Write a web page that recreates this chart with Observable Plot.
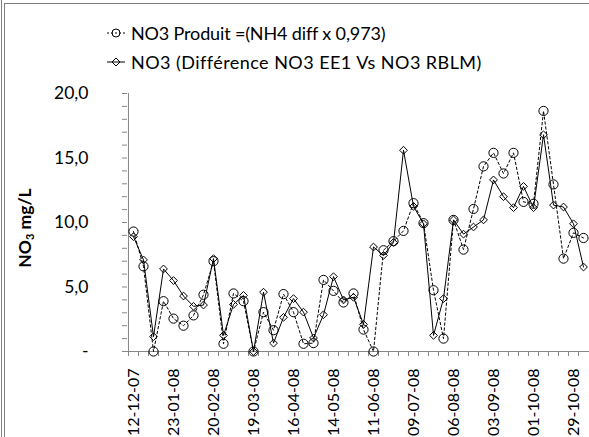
<!DOCTYPE html>
<html><head><meta charset="utf-8">
<script src="https://cdn.jsdelivr.net/npm/d3@7"></script>
<script src="https://cdn.jsdelivr.net/npm/@observablehq/plot@0.6"></script>
<style>
body{margin:0;background:#fff;}
#wrap{position:relative;width:589px;height:437px;overflow:hidden;font-family:Lato,sans-serif;color:#000;}
#outer{position:absolute;left:1px;top:0;width:1px;height:437px;background:#7f7f7f;}
#frame{position:absolute;left:4px;top:3px;width:700px;height:600px;border-left:1px solid #7f7f7f;border-top:1px solid #7f7f7f;}
#legend{position:relative;height:80px;}
.leg{position:absolute;left:106px;font-size:18px;display:flex;align-items:center;white-space:nowrap;line-height:20px;}
.leg svg{margin-right:5px;}
#ytitle{position:absolute;left:25px;top:228px;transform:translate(-50%,-50%) rotate(-90deg);font-weight:bold;font-size:17.5px;white-space:nowrap;}
#ytitle sub{font-size:11px;vertical-align:-3px;}
#chart{position:relative;}
</style></head>
<body>
<div id="wrap">
  <div id="outer"></div>
  <div id="frame"></div>
  <div id="legend">
    <div class="leg" style="top:23px;letter-spacing:-0.15px"><svg width="20" height="14"><line x1="1" y1="7" x2="19" y2="7" stroke="#000" stroke-dasharray="2,2"/><circle cx="10" cy="7" r="4" fill="none" stroke="#000"/></svg>NO3 Produit =(NH4 diff x 0,973)</div>
    <div class="leg" style="top:52px;letter-spacing:0.45px"><svg width="20" height="14"><line x1="1" y1="7" x2="19" y2="7" stroke="#000"/><path d="M10,3 L14,7 L10,11 L6,7 Z" fill="none" stroke="#000"/></svg>NO3 (Différence NO3 EE1 Vs NO3 RBLM)</div>
  </div>
  <div id="chart"></div>
  <div id="ytitle">NO<sub>3</sub> mg/L</div>
</div>
<script>
const dates = ["12-12-07","19-12-07","09-01-08","16-01-08","23-01-08","30-01-08","06-02-08","13-02-08",
  "20-02-08","27-02-08","05-03-08","12-03-08","19-03-08","26-03-08","02-04-08","09-04-08",
  "16-04-08","23-04-08","30-04-08","07-05-08","14-05-08","21-05-08","28-05-08","04-06-08",
  "11-06-08","18-06-08","25-06-08","02-07-08","09-07-08","16-07-08","23-07-08","30-07-08",
  "06-08-08","13-08-08","20-08-08","27-08-08","03-09-08","10-09-08","17-09-08","24-09-08",
  "01-10-08","08-10-08","15-10-08","22-10-08","29-10-08","05-11-08"];
const no3Produit = [9.3,6.6,0,3.9,2.55,2.0,2.8,4.4,7.0,0.6,4.5,3.9,0,3.05,1.65,4.45,3.05,0.6,0.65,5.55,
  4.7,3.8,4.5,1.7,0,7.85,8.55,9.35,11.5,9.95,4.75,1.0,10.2,7.9,11.05,14.35,15.4,13.8,15.4,11.6,
  11.45,18.65,12.95,7.2,9.2,8.8];
const no3Difference = [8.9,7.1,1.15,6.4,5.5,4.3,3.5,3.6,7.2,1.25,3.65,4.35,0,4.6,0.65,2.65,4.1,3.05,1.05,2.85,
  5.8,4.0,4.2,2.1,8.1,7.45,8.45,15.6,11.25,9.9,1.25,4.1,10.2,9.1,9.65,10.2,13.3,12.0,11.15,12.8,
  11.15,16.8,11.35,11.2,9.9,6.55];
const labelDates = ["12-12-07","23-01-08","20-02-08","19-03-08","16-04-08","14-05-08","11-06-08",
  "09-07-08","06-08-08","03-09-08","01-10-08","29-10-08"];
const yLabelTicks = [0,5,10,15,20];
const yMinorTicks = [0,1,2,3,4,5,6,7,8,9,10,11,12,13,14,15,16,17,18,19,20];

const rows = dates.map((d, i) => ({date: d, produit: no3Produit[i], diff: no3Difference[i]}));
const step = 462 / dates.length;
const axisColor = "#868686";

const chart = Plot.plot({
  width: 589, height: 357,
  marginLeft: 127, marginRight: 0, marginTop: 13, marginBottom: 86,
  style: {fontFamily: "Lato, sans-serif", fontSize: "17px", color: "#000", background: "transparent", overflow: "visible"},
  x: {type: "point", domain: dates, padding: 0.5, axis: null},
  y: {domain: [0, 20], axis: null},
  marks: [
    Plot.axisY(yMinorTicks, {tickSize: 5, tickFormat: () => "", stroke: axisColor, label: null}),
    Plot.axisY(yLabelTicks, {tickSize: 0, tickPadding: 39, fontSize: 17.5, label: null,
      tickFormat: d => d === 0 ? "-" : d.toFixed(1).replace(".", ",")}),
    Plot.axisX(dates, {tickSize: 5, tickFormat: () => "", dx: -step / 2, stroke: axisColor, label: null}),
    Plot.axisX(labelDates, {tickSize: 0, tickPadding: 17, tickRotate: -90, fontSize: 16, label: null}),
    Plot.ruleY([0], {stroke: axisColor}),
    Plot.ruleX([dates[0]], {y1: 0, y2: 20, dx: -step / 2, stroke: axisColor}),
    Plot.line(rows, {x: "date", y: "produit", stroke: "#000", strokeWidth: 1, strokeDasharray: "2.5,2.5"}),
    Plot.dot(rows, {x: "date", y: "produit", r: 4.6, stroke: "#000", strokeWidth: 1, fill: "none"}),
    Plot.line(rows, {x: "date", y: "diff", stroke: "#000", strokeWidth: 1}),
    Plot.dot(rows, {x: "date", y: "diff", symbol: "diamond2", r: 3.5, stroke: "#000", strokeWidth: 1, fill: "none"})
  ]
});
document.getElementById("chart").appendChild(chart);
</script>
</body></html>
